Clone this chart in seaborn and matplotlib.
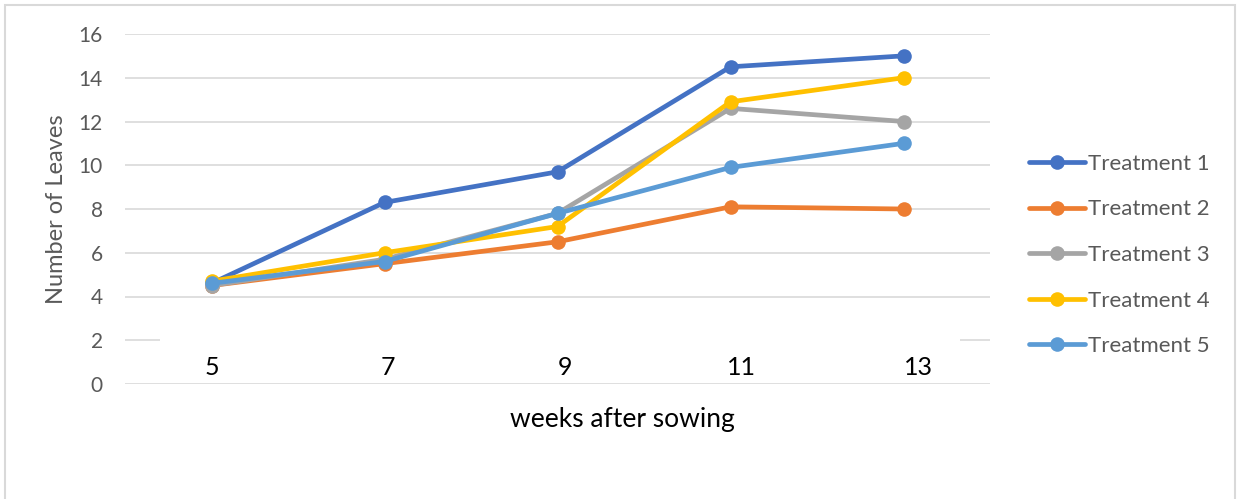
import pandas as pd
import seaborn as sns
import matplotlib.pyplot as plt
from matplotlib.patches import Rectangle

# weeks after sowing
weeks = [5, 7, 9, 11, 13]
treatment_1 = [4.6, 8.3, 9.7, 14.5, 15.0]
treatment_2 = [4.5, 5.5, 6.5, 8.1, 8.0]
treatment_3 = [4.5, 5.7, 7.8, 12.6, 12.0]
treatment_4 = [4.7, 6.0, 7.2, 12.9, 14.0]
treatment_5 = [4.6, 5.6, 7.8, 9.9, 11.0]
names = ["Treatment 1", "Treatment 2", "Treatment 3", "Treatment 4", "Treatment 5"]
colors = ["#4472C4", "#ED7D31", "#A5A5A5", "#FFC000", "#5B9BD5"]
yticks = [0, 2, 4, 6, 8, 10, 12, 14, 16]

rows = []
for name, vals in zip(names, [treatment_1, treatment_2, treatment_3, treatment_4, treatment_5]):
    for w, v in zip(weeks, vals):
        rows.append({"week": w, "leaves": v, "series": name})
df = pd.DataFrame(rows)

sns.set_style("whitegrid")
plt.rcParams['font.family'] = ['Lato', 'DejaVu Sans']

fig = plt.figure(figsize=(12.38, 4.99), dpi=100)
ax = fig.add_axes([125/1238, 1-384/499, 865/1238, 350/499])

sns.lineplot(data=df, x="week", y="leaves", hue="series", palette=colors,
             marker="o", markersize=10.5, markeredgewidth=0, linewidth=3.4,
             ax=ax, zorder=3)

ax.set_xlim(4, 14)
ax.set_ylim(0, 16)
ax.set_yticks(yticks)
ax.set_xticks([])
ax.grid(axis="y", color="#d9d9d9", linewidth=1.2)
ax.grid(axis="x", visible=False)
for s in ax.spines.values():
    s.set_visible(False)
ax.tick_params(axis="y", length=0, pad=16, labelsize=15, labelcolor="#595959")

# white box that holds the week labels (hides the 2-line, like the original)
ax.add_patch(Rectangle((4.4, 0.25), 9.25, 2.1, facecolor="white", edgecolor="none", zorder=1))
for w in weeks:
    # the label box in the original is slightly wider than the plot categories
    ax.text(5 + (w - 5) * 1.021, 0.75, str(w), ha="center", va="center",
            fontsize=18, color="black", zorder=4)

ax.set_xlabel("weeks after sowing", fontsize=19, color="black")
ax.xaxis.set_label_coords((622-125)/865, -(420-384)/350)
ax.xaxis.label.set_va("center")
ax.set_ylabel("Number of Leaves", fontsize=17, color="#595959")
ax.yaxis.set_label_coords(-(125-57)/865, 0.5)
ax.yaxis.label.set_va("center")

h, l = ax.get_legend_handles_labels()
ax.legend(h, l, loc="center left", bbox_to_anchor=(1029/1238, 1-255/499),
          bbox_transform=fig.transFigure, frameon=False, fontsize=16,
          labelcolor="#595959", handlelength=2.5, handletextpad=0.15,
          labelspacing=1.15, borderpad=0, borderaxespad=0)

fig.add_artist(Rectangle((5/1238, -0.05), 1230/1238, 1.05 - 5/499,
                         transform=fig.transFigure, fill=False,
                         edgecolor="#d9d9d9", linewidth=1.5))

fig.savefig("out.png", dpi=100)
